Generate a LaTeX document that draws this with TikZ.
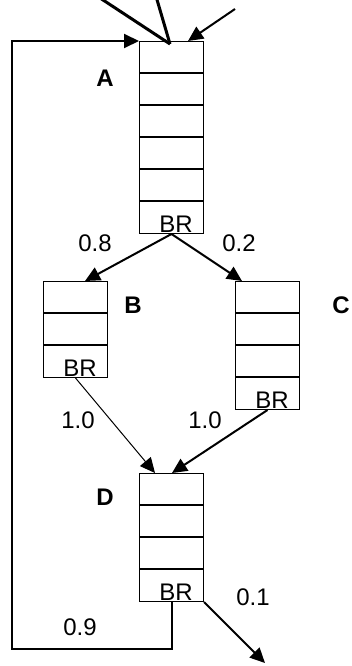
\documentclass[tikz,border=0pt]{standalone}
\usepackage{fontspec}
\setmainfont{Liberation Sans}
\usetikzlibrary{arrows.meta,calc}

% A vertical stack of cells: name, left x, top y, number of cells
\newcommand\cellstack[4]{%
  \node[stackbox, minimum height={32*#4}] (#1) at (#2,#3) {};
  \foreach \k in {1,...,\numexpr#4-1\relax}
    \draw[divider] ($(#1.north west)+(0,32*\k)$) -- ($(#1.north east)+(0,32*\k)$);
  \node[brtext] (#1br) at ($(#1.south east)+(-11,-2)$) {BR};
}

\begin{document}
\begin{tikzpicture}[x=1pt,y=-1pt,
  every node/.style={font=\fontsize{24}{28}\selectfont},
  stackbox/.style={draw, line width=1pt, anchor=north west, minimum width=64pt, inner sep=0pt},
  divider/.style={line width=2.5pt},
  brtext/.style={anchor=base east, inner sep=0pt},
  tag/.style={font=\fontsize{24}{28}\selectfont\bfseries},
  prob/.style={},
  flow/.style={line width=2pt, -{Triangle[length=15pt,width=14pt]}},
  thinflow/.style={line width=1pt, -{Triangle[length=15pt,width=14pt]}}]
  \clip (0,0) rectangle (352,666);

  % stacks
  \cellstack{A}{139}{41}{6}
  \cellstack{B}{43}{281}{3}
  \cellstack{C}{235}{281}{4}
  \cellstack{D}{139}{473}{4}

  % block names
  \node[tag] (lA) at (105,78) {A};
  \node[tag] (lB) at (133,305) {B};
  \node[tag] (lC) at (341,305) {C};
  \node[tag] (lD) at (105,497) {D};

  % incoming edges at the top
  \coordinate (in1) at (100,-2);
  \coordinate (in2) at (156.5,-2);
  \coordinate (in3) at (235,9);
  \coordinate (tip) at (170,44);
  \draw[line width=3pt] (in1) -- (tip);
  \draw[line width=3pt] (in2) -- (tip);
  \draw[flow] (in3) -- ($(A.north west)+(49,0)$);

  % branch edges
  \draw[flow] (A.south) -- ($(B.north west)+(42,0)$);
  \draw[flow] (A.south) -- ($(C.north west)+(7,0)$);
  \draw[thinflow] (B.south) -- ($(D.north west)+(16,0)$);
  \draw[flow] (C.south) -- ($(D.north west)+(33,0)$);

  % loop back and exit
  \coordinate (out) at (265,663);
  \draw[flow] (D.south) -- ++(0,47) -| (12,41) -- (A.north west);
  \draw[flow] (D.south east) -- (out);

  % probabilities
  \node[prob] (p08) at (95,243) {0.8};
  \node[prob] (p02) at (239,243) {0.2};
  \node[prob] (p10a) at (78,420) {1.0};
  \node[prob] (p10b) at (205,420) {1.0};
  \node[prob] (p01) at (253,597) {0.1};
  \node[prob] (p09) at (80,627) {0.9};
\end{tikzpicture}
\end{document}
